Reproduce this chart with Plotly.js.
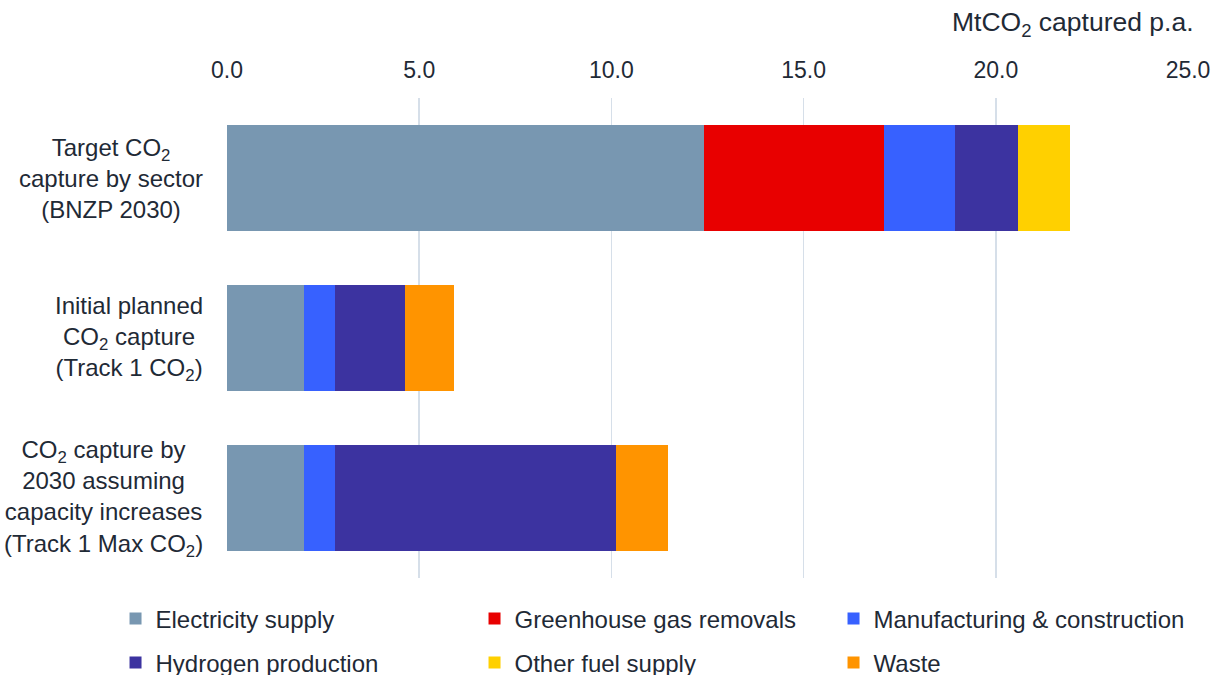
<!DOCTYPE html>
<html>
<head>
<meta charset="utf-8">
<script src="https://cdn.plot.ly/plotly-3.0.1.min.js"></script>
<style>
  html, body { margin: 0; padding: 0; background: #ffffff; }
  #chart { width: 1214px; height: 675px; }
</style>
</head>
<body>
<div id="chart"></div>
<script>
// Scenarios, top to bottom
const categories = [
  'Target CO<sub>2</sub><br>capture by sector<br>(BNZP 2030)',
  'Initial planned<br>CO<sub>2</sub> capture<br>(Track 1 CO<sub>2</sub>)',
  'CO<sub>2</sub> capture by<br>2030 assuming<br>capacity increases<br>(Track 1 Max CO<sub>2</sub>)'
];
const categoryKeys = ['bnzp', 'track1', 'track1max'];

// MtCO2 captured per year, by sector
const electricitySupply  = [12.42, 2.00, 2.00];
const greenhouseRemovals = [4.68, 0, 0];
const manufacturing      = [1.85, 0.82, 0.82];
const hydrogen           = [1.62, 1.80, 7.31];
const otherFuel          = [1.37, 0, 0];
const waste              = [0, 1.29, 1.35];

const seriesNames = [
  'Electricity supply', 'Greenhouse gas removals', 'Manufacturing & construction',
  'Hydrogen production', 'Other fuel supply', 'Waste'
];
const seriesValues = [electricitySupply, greenhouseRemovals, manufacturing, hydrogen, otherFuel, waste];
const seriesColors = ['#7897b1', '#e80000', '#3761ff', '#3c33a0', '#ffd000', '#ff9400'];

const axisTicks = [0, 5, 10, 15, 20, 25];

const font = 'Liberation Sans, Arial, sans-serif';
const textColor = '#1f2a36';

const traces = seriesNames.map((name, i) => ({
  type: 'bar',
  orientation: 'h',
  name: name,
  x: seriesValues[i],
  y: categoryKeys,
  marker: { color: seriesColors[i], line: { width: 0 } },
  legend: i < 3 ? 'legend' : 'legend2',
  hoverinfo: 'x+name'
}));

// Two single-row legends so each row sits at its own height
const legendCommon = {
  orientation: 'h',
  x: -0.116,
  xanchor: 'left',
  yanchor: 'middle',
  entrywidth: 314,
  entrywidthmode: 'pixels',
  font: { family: font, size: 24, color: textColor },
  bgcolor: 'rgba(0,0,0,0)',
  itemclick: false,
  itemdoubleclick: false,
  traceorder: 'normal'
};

// Centred, multi-line scenario labels to the left of each bar
const annotations = categories.map((label, i) => ({
  xref: 'paper', yref: 'y',
  x: -0.023, y: categoryKeys[i],
  xanchor: 'right', yanchor: 'middle',
  align: 'center',
  text: label,
  showarrow: false,
  font: { family: font, size: 24, color: textColor }
}));

// Unit label above the top axis
annotations.push({
  xref: 'paper', yref: 'paper',
  x: 1.0085, y: 1.115,
  xanchor: 'right', yanchor: 'bottom',
  text: 'MtCO<sub>2</sub> captured p.a.',
  showarrow: false,
  font: { family: font, size: 26.5, color: textColor }
});

const layout = {
  width: 1214,
  height: 675,
  margin: { l: 227, r: 26, t: 98, b: 97, autoexpand: false },
  paper_bgcolor: '#ffffff',
  plot_bgcolor: '#ffffff',
  barmode: 'stack',
  bargap: 0.34,
  showlegend: true,
  legend: Object.assign({ y: -0.085 }, legendCommon),
  legend2: Object.assign({ y: -0.177 }, legendCommon),
  xaxis: {
    side: 'top',
    range: [0, 25],
    tickvals: axisTicks,
    tickformat: '.1f',
    showgrid: true,
    gridcolor: '#d6dfe9',
    gridwidth: 1.5,
    zeroline: false,
    showline: false,
    ticks: '',
    ticklabelstandoff: 14,
    tickfont: { family: font, size: 23, color: textColor },
    fixedrange: true
  },
  yaxis: {
    type: 'category',
    categoryorder: 'array',
    categoryarray: categoryKeys,
    autorange: 'reversed',
    showticklabels: false,
    showgrid: false,
    zeroline: false,
    showline: false,
    ticks: '',
    fixedrange: true
  },
  annotations: annotations
};

Plotly.newPlot('chart', traces, layout, { displayModeBar: false, staticPlot: true });
</script>
</body>
</html>
